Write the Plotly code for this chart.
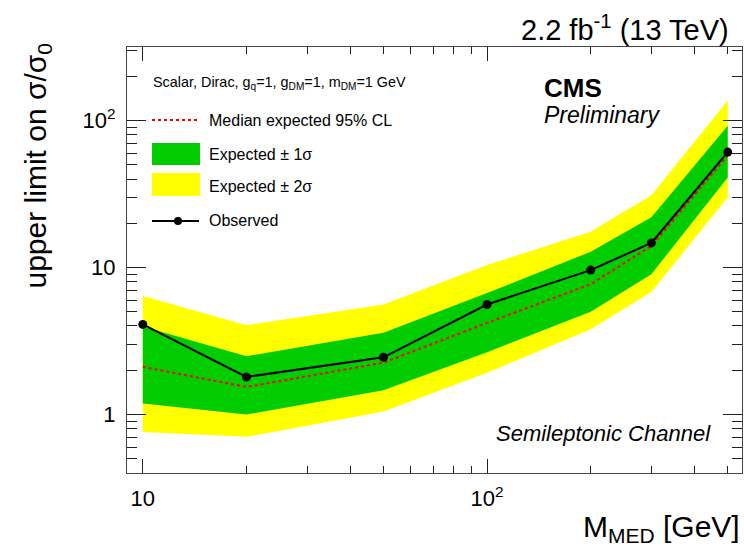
import plotly.graph_objects as go

# Mediator mass points [GeV] and 95% CL upper limits on sigma/sigma_0
mass = [10, 20, 50, 100, 200, 300, 500]
observed = [4.1, 1.80, 2.45, 5.6, 9.6, 14.7, 61]
expected = [2.11, 1.54, 2.25, 4.2, 7.7, 14.0, 58]
exp_1s_up = [3.97, 2.49, 3.6, 6.7, 12.8, 22, 92]
exp_1s_dn = [1.19, 1.0, 1.46, 2.65, 5.0, 9.0, 41]
exp_2s_up = [6.4, 4.05, 5.6, 10.4, 17.5, 31, 137]
exp_2s_dn = [0.76, 0.705, 1.05, 1.92, 3.8, 6.8, 30]

x_major = [10, 100]
x_major_text = ["10", "10<sup>2</sup>"]
x_minor = [20, 30, 40, 50, 60, 70, 80, 90, 200, 300, 400, 500]
y_major = [1, 10, 100]
y_major_text = ["1", "10", "10<sup>2</sup>"]
y_minor = [0.4, 0.5, 0.6, 0.7, 0.8, 0.9, 2, 3, 4, 5, 6, 7, 8, 9,
           20, 30, 40, 50, 60, 70, 80, 90, 200, 300]

W, H = 744, 546
L, R, T, B = 127, 2, 47, 73
PW, PH = W - L - R, H - T - B
FONT = "Liberation Sans, Arial, Helvetica, sans-serif"


def px(xp):
    return (xp - L) / PW


def py(yp):
    return (H - B - yp) / PH


fig = go.Figure()

# +-2 sigma band
fig.add_trace(go.Scatter(
    x=mass + mass[::-1], y=exp_2s_up + exp_2s_dn[::-1],
    fill="toself", fillcolor="#FFFF00", line=dict(width=0),
    mode="lines", hoverinfo="skip", showlegend=False))
# +-1 sigma band
fig.add_trace(go.Scatter(
    x=mass + mass[::-1], y=exp_1s_up + exp_1s_dn[::-1],
    fill="toself", fillcolor="#00CC00", line=dict(width=0),
    mode="lines", hoverinfo="skip", showlegend=False))
# median expected
fig.add_trace(go.Scatter(
    x=mass, y=expected, mode="lines",
    line=dict(color="#FF0000", width=2, dash="dot"), showlegend=False))
# observed
fig.add_trace(go.Scatter(
    x=mass, y=observed, mode="lines+markers",
    line=dict(color="black", width=2),
    marker=dict(color="black", size=9), showlegend=False))

axis_common = dict(
    type="log", showgrid=False, zeroline=False,
    showline=True, linecolor="#444", linewidth=1, mirror="ticks",
    ticks="inside", tickcolor="#222", tickwidth=1,
    tickfont=dict(family=FONT, size=22, color="black"),
)

fig.update_xaxes(
    **axis_common,
    range=[0.9542, 2.7404],
    tickmode="array", tickvals=x_major, ticktext=x_major_text, ticklen=14,
    minor=dict(tickmode="array", tickvals=x_minor, ticks="inside",
               ticklen=7, tickcolor="#222", tickwidth=1),
    ticklabelstandoff=6,
)
fig.update_yaxes(
    **axis_common,
    range=[-0.398, 2.5],
    tickmode="array", tickvals=y_major, ticktext=y_major_text, ticklen=19,
    minor=dict(tickmode="array", tickvals=y_minor, ticks="inside",
               ticklen=10, tickcolor="#222", tickwidth=1),
    ticklabelstandoff=6,
)

ann = []
# axis titles
ann.append(dict(text="upper limit on σ/σ<sub>0</sub>", textangle=-90,
                x=px(37), y=py(42), xanchor="center", yanchor="top",
                font=dict(family=FONT, size=30, color="black")))
ann.append(dict(text="M<sub>MED</sub> [GeV]", x=1.0, y=py(528),
                xanchor="right", yanchor="middle",
                font=dict(family=FONT, size=30, color="black")))
# luminosity / energy label
ann.append(dict(text="2.2 fb<sup>-1</sup> (13 TeV)", x=px(731), y=py(28),
                xanchor="right", yanchor="middle",
                font=dict(family=FONT, size=29, color="black")))
# CMS label
ann.append(dict(text="<b>CMS</b>", x=px(542), y=py(88),
                xanchor="left", yanchor="middle",
                font=dict(family=FONT, size=26, color="black")))
ann.append(dict(text="<i>Preliminary</i>", x=px(542), y=py(115),
                xanchor="left", yanchor="middle",
                font=dict(family=FONT, size=23, color="black")))
ann.append(dict(text="<i>Semileptonic Channel</i>", x=px(713), y=py(433),
                xanchor="right", yanchor="middle",
                font=dict(family=FONT, size=22, color="black")))

# legend block
ann.append(dict(text="Scalar, Dirac, g<sub>q</sub>=1, g<sub>DM</sub>=1, m<sub>DM</sub>=1 GeV",
                x=px(151), y=py(83), xanchor="left", yanchor="middle",
                font=dict(family=FONT, size=14.4, color="black")))
leg_rows = [("Median expected 95% CL", 120),
            ("Expected ± 1σ", 154),
            ("Expected ± 2σ", 186),
            ("Observed", 220)]
for label, yy in leg_rows:
    ann.append(dict(text=label, x=px(207), y=py(yy), xanchor="left",
                    yanchor="middle",
                    font=dict(family=FONT, size=16, color="black")))

for a in ann:
    a.update(xref="paper", yref="paper", showarrow=False)

shapes = [
    dict(type="line", x0=px(152), x1=px(199), y0=py(120), y1=py(120),
         line=dict(color="#FF0000", width=2, dash="dot")),
    dict(type="rect", x0=px(152), x1=px(200), y0=py(143), y1=py(165),
         fillcolor="#00CC00", line=dict(width=0)),
    dict(type="rect", x0=px(152), x1=px(200), y0=py(173), y1=py(196),
         fillcolor="#FFFF00", line=dict(width=0)),
    dict(type="line", x0=px(152), x1=px(199), y0=py(221), y1=py(221),
         line=dict(color="black", width=2)),
    dict(type="circle", x0=px(174), x1=px(182), y0=py(217), y1=py(225),
         fillcolor="black", line=dict(width=0)),
]
for s in shapes:
    s.update(xref="paper", yref="paper")

fig.update_layout(
    width=W, height=H,
    margin=dict(l=L, r=R, t=T, b=B),
    paper_bgcolor="white", plot_bgcolor="white",
    annotations=ann, shapes=shapes, showlegend=False,
)

fig.write_html("out.html")
